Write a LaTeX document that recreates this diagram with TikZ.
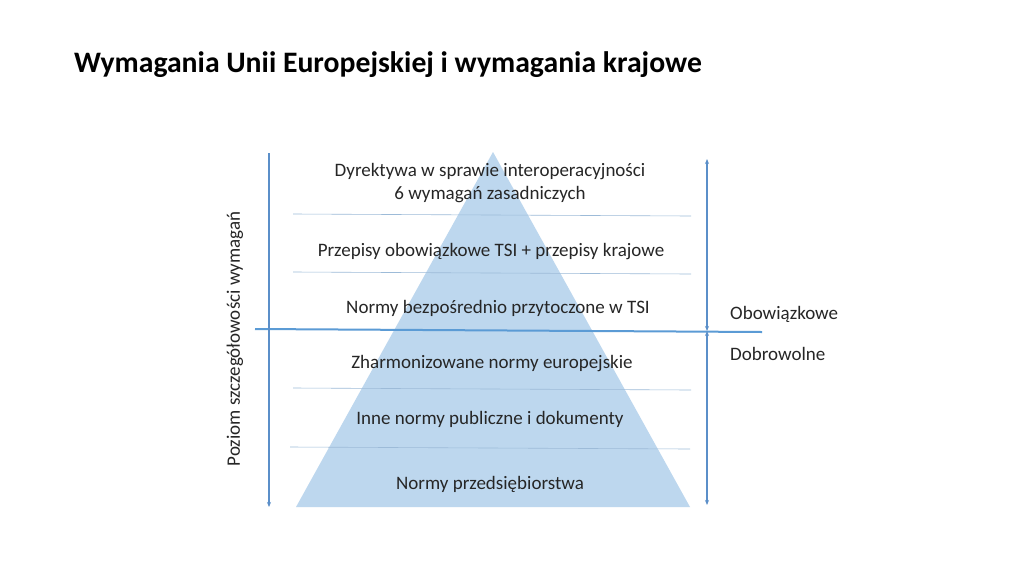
\documentclass[tikz,border=0pt]{standalone}
\usepackage{fontspec}
\setmainfont{Carlito}
\usetikzlibrary{arrows.meta}
\definecolor{tri}{HTML}{BDD7EE}
\definecolor{axis}{HTML}{5B8FC9}
\definecolor{sep}{HTML}{9DBBD8}
\definecolor{thick}{HTML}{5B9BD5}
\tikzset{
  lvl/.style={font=\fontsize{19}{23}\selectfont, text=black!85, align=center, inner sep=0pt},
  side/.style={font=\fontsize{19}{23}\selectfont, text=black!85, anchor=west, inner sep=0pt},
  axisline/.style={draw=axis, line width=1.1pt},
  seplinestyle/.style={draw=sep, line width=0.6pt},
  tip/.style={-{Stealth[length=5pt,width=4pt]}},
}
\begin{document}
\begin{tikzpicture}[x=1pt,y=-1pt]
\useasboundingbox[fill=white] (0,0) rectangle (1024,576);
% title
\node[anchor=base west, inner sep=0pt, font=\fontsize{29.7}{34}\selectfont\bfseries] (title) at (74,72) {Wymagania Unii Europejskiej i wymagania krajowe};
% triangle
\fill[tri] (296,507) -- (493,152) -- (690,507) -- cycle;
% separator lines
\coordinate (s1a) at (293,214); \coordinate (s1b) at (691,216);
\coordinate (s2a) at (293,272); \coordinate (s2b) at (691,274);
\coordinate (s3a) at (293,388); \coordinate (s3b) at (691,390);
\coordinate (s4a) at (290,447); \coordinate (s4b) at (690,449);
\draw[seplinestyle] (s1a) -- (s1b);
\draw[seplinestyle] (s2a) -- (s2b);
\draw[seplinestyle] (s3a) -- (s3b);
\draw[seplinestyle] (s4a) -- (s4b);
% thick divider
\coordinate (da) at (255,329); \coordinate (db) at (762,332);
\draw[draw=thick, line width=2pt] (da) -- (db);
% left axis
\coordinate (la) at (269,153); \coordinate (lb) at (269,507);
\draw[axisline, tip] (la) -- (lb);
\node[rotate=90, font=\fontsize{19}{23}\selectfont, text=black!85, inner sep=0pt] (ylabel) at (235,339) {Poziom szczegółowości wymagań};
% right arrows
\coordinate (ra) at (707,159); \coordinate (rm) at (707,331); \coordinate (rb) at (707,505);
\draw[axisline, {Stealth[length=5pt,width=4pt]}-{Stealth[length=5pt,width=4pt]}] (ra) -- (rm);
\draw[axisline, {Stealth[length=5pt,width=4pt]}-{Stealth[length=5pt,width=4pt]}] (rm) -- (rb);
% level labels
\node[lvl] (l1) at (490,183.5) {Dyrektywa w sprawie interoperacyjności\\6 wymagań zasadniczych};
\node[lvl] (l2) at (491,252) {Przepisy obowiązkowe TSI + przepisy krajowe};
\node[lvl] (l3) at (498,308) {Normy bezpośrednio przytoczone w TSI};
\node[lvl] (l4) at (492,364) {Zharmonizowane normy europejskie};
\node[lvl] (l5) at (490,419) {Inne normy publiczne i dokumenty};
\node[lvl] (l6) at (490,484) {Normy przedsiębiorstwa};
% side labels
\node[side] (ob) at (730,314) {Obowiązkowe};
\node[side] (dob) at (730,354) {Dobrowolne};
\end{tikzpicture}
\end{document}
